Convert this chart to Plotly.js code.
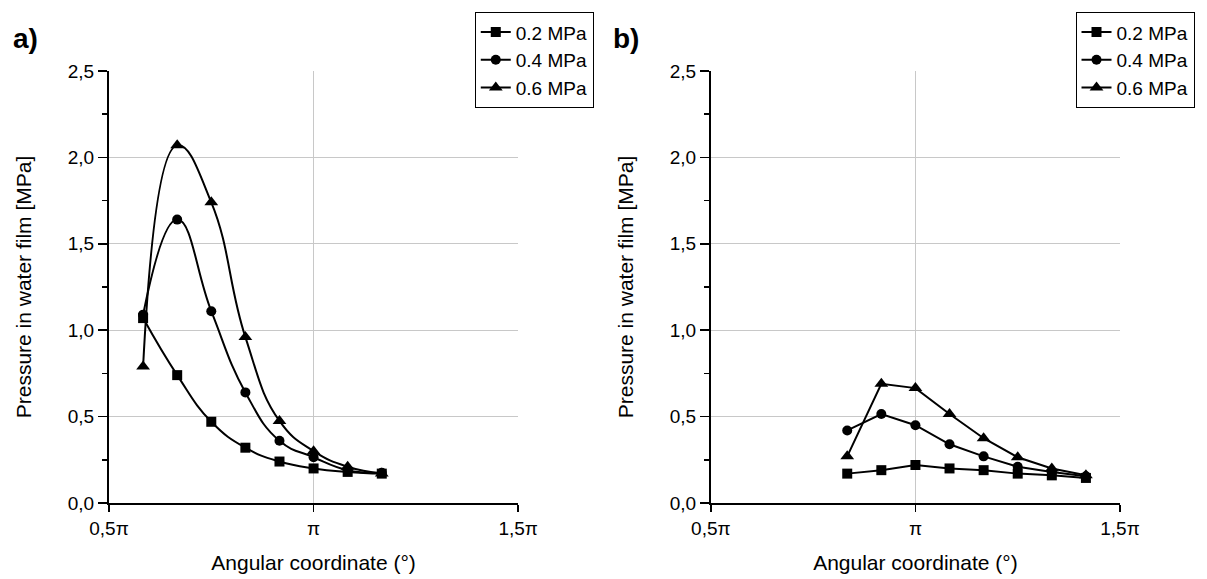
<!DOCTYPE html>
<html><head><meta charset="utf-8">
<script src="https://cdn.plot.ly/plotly-3.0.1.min.js"></script>
<style>body{margin:0;background:#fff}#chart{width:1207px;height:579px}</style>
</head><body><div id="chart"></div>
<script>
// angular coordinate in degrees
const angleA = [105, 120, 135, 150, 165, 180, 195, 210];
const a02 = [1.07, 0.74, 0.47, 0.32, 0.24, 0.20, 0.18, 0.17];
const a04 = [1.09, 1.64, 1.11, 0.64, 0.36, 0.265, 0.19, 0.175];
const a06 = [0.79, 2.07, 1.74, 0.96, 0.475, 0.30, 0.21, 0.17];

const angleB = [150, 165, 180, 195, 210, 225, 240, 255];
const b02 = [0.17, 0.19, 0.22, 0.20, 0.19, 0.17, 0.16, 0.145];
const b04 = [0.42, 0.515, 0.45, 0.34, 0.27, 0.21, 0.18, 0.155];
const b06 = [0.27, 0.69, 0.665, 0.515, 0.375, 0.265, 0.20, 0.16];

const seriesNames = ['0.2 MPa', '0.4 MPa', '0.6 MPa'];
const symbols = ['square', 'circle', 'triangle-up'];
const xTickVals = [90, 180, 270];
const xTickText = ['0,5π', 'π', '1,5π'];
const yTickVals = [0, 0.5, 1.0, 1.5, 2.0, 2.5];
const yTickText = ['0,0', '0,5', '1,0', '1,5', '2,0', '2,5'];

const F = 'Liberation Sans, Arial, sans-serif';
const traces = [];
[a02, a04, a06].forEach((ys, i) => {
  traces.push({x: angleA, y: ys, name: seriesNames[i], xaxis: 'x', yaxis: 'y', legend: 'legend',
    mode: 'lines+markers', line: {color: '#000', width: 2, shape: 'spline', smoothing: 1.3},
    marker: {symbol: symbols[i], size: i === 2 ? 12 : 10, color: '#000'}});
});
[b02, b04, b06].forEach((ys, i) => {
  traces.push({x: angleB, y: ys, name: seriesNames[i], xaxis: 'x2', yaxis: 'y2', legend: 'legend2',
    mode: 'lines+markers', line: {color: '#000', width: 2},
    marker: {symbol: symbols[i], size: i === 2 ? 12 : 10, color: '#000'}});
});

function xax(dom, anchor) {
  return {domain: dom, anchor: anchor, range: [90, 270], tickvals: xTickVals, ticktext: xTickText, automargin: false,
    showgrid: true, gridcolor: '#c8c8c8', gridwidth: 1, zeroline: false,
    showline: true, linecolor: '#000', linewidth: 2, ticks: 'outside', ticklen: 7, tickwidth: 1.5, tickcolor: '#000',
    tickfont: {family: F, size: 19, color: '#000'},
    title: {text: 'Angular coordinate (°)', font: {family: F, size: 21, color: '#000'}, standoff: 18}};
}
function yax(anchor) {
  return {anchor: anchor, range: [0, 2.5], tickvals: yTickVals, ticktext: yTickText, automargin: false,
    showgrid: true, gridcolor: '#c8c8c8', gridwidth: 1, zeroline: false,
    showline: true, linecolor: '#000', linewidth: 2, ticks: 'outside', ticklen: 9, tickwidth: 1.5, tickcolor: '#000',
    minor: {tickvals: [0.25, 0.75, 1.25, 1.75, 2.25], ticks: 'outside', ticklen: 5, tickwidth: 1.5, tickcolor: '#000', showgrid: false},
    tickfont: {family: F, size: 19, color: '#000'},
    title: {text: 'Pressure in water film [MPa]', font: {family: F, size: 21, color: '#000'}, standoff: 30}};
}
const legStyle = {bgcolor: '#fff', bordercolor: '#000', borderwidth: 1, font: {family: F, size: 19, color: '#000'},
  xanchor: 'right', yanchor: 'top', tracegroupgap: 0, itemwidth: 30};

const layout = {
  width: 1207, height: 579, paper_bgcolor: '#fff', plot_bgcolor: '#fff',
  margin: {l: 109, r: 80, t: 69, b: 76},
  showlegend: true,
  xaxis: xax([0, 0.4047], 'y'),
  yaxis: yax('x'),
  xaxis2: xax([0.5953, 1], 'y2'),
  yaxis2: yax('x2'),
  legend: Object.assign({x: 0.4795, y: 1.136}, legStyle),
  legend2: Object.assign({x: 1.0737, y: 1.136}, legStyle),
  annotations: [
    {text: '<b>a)</b>', xref: 'paper', yref: 'paper', x: -0.097, y: 1.075, xanchor: 'left', yanchor: 'middle', showarrow: false, font: {family: F, size: 28, color: '#000'}},
    {text: '<b>b)</b>', xref: 'paper', yref: 'paper', x: 0.497, y: 1.075, xanchor: 'left', yanchor: 'middle', showarrow: false, font: {family: F, size: 28, color: '#000'}}
  ]
};
Plotly.newPlot('chart', traces, layout, {displayModeBar: false, staticPlot: true});
</script></body></html>
